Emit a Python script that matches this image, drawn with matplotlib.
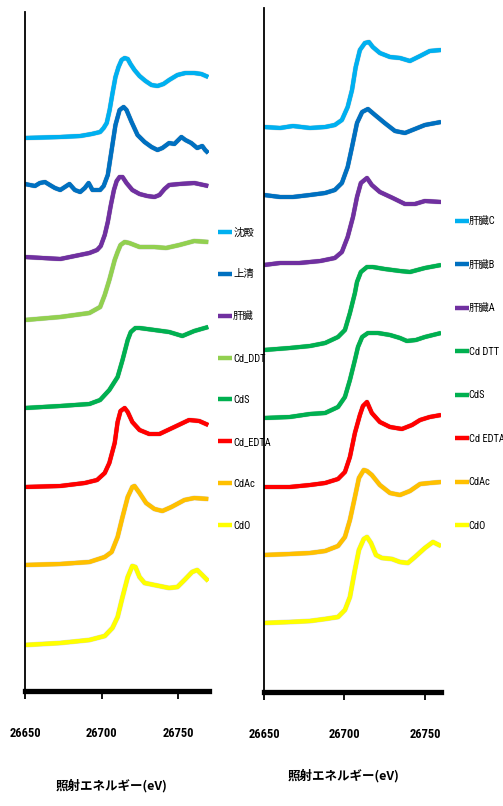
import matplotlib
matplotlib.use('Agg')
import matplotlib.pyplot as plt
from matplotlib import font_manager
import matplotlib.patheffects as pe

# ---------------- data (energy in eV, stacked intensity, arbitrary units) ----------------
# Left panel
left_labels = ['沈殿', '上清', '肝臓', 'Cd_DDT', 'CdS', 'Cd_EDTA', 'CdAc', 'CdO']
left_colors = ['#00B0F0', '#0070C0', '#7030A0', '#92D050', '#00B050', '#FF0000', '#FFC000', '#FFFF00']

L_sed_E = [26650, 26673, 26686, 26693.5, 26699, 26701.3, 26703.3, 26705.2, 26707.1, 26709, 26711,
           26713, 26715, 26717, 26718.8, 26721.4, 26724.7, 26728.6, 26732.5, 26736.4, 26740.3,
           26744, 26749.4, 26754.6, 26760.4, 26765, 26769.5]
L_sed_y = [5.53, 5.54, 5.55, 5.57, 5.59, 5.63, 5.68, 5.81, 5.98, 6.14, 6.24,
           6.31, 6.33, 6.32, 6.27, 6.21, 6.15, 6.10, 6.06, 6.05, 6.07,
           6.11, 6.16, 6.18, 6.18, 6.17, 6.14]

L_sup_E = [26650, 26653.2, 26656.5, 26659.7, 26663, 26666.2, 26669.5, 26673, 26676, 26679,
           26682.5, 26686, 26689, 26691.5, 26694, 26699, 26701.3, 26704, 26706.5, 26709,
           26711.7, 26714.3, 26716.2, 26719.5, 26723.4, 26728, 26732.5, 26736.4, 26739.6, 26744,
           26747.4, 26752, 26754.6, 26758.4, 26762.3, 26765.6, 26767.5, 26769.5]
L_sup_y = [5.07, 5.06, 5.05, 5.08, 5.09, 5.06, 5.03, 5.01, 5.04, 5.07,
           5.01, 4.99, 5.03, 5.08, 5.01, 5.01, 5.05, 5.16, 5.41, 5.66,
           5.81, 5.84, 5.81, 5.69, 5.56, 5.49, 5.44, 5.41, 5.43, 5.48,
           5.47, 5.54, 5.51, 5.48, 5.43, 5.45, 5.41, 5.38]

L_liv_E = [26650, 26673, 26692, 26697, 26699.4, 26702, 26704, 26706, 26708, 26709.8, 26711.7,
           26713.6, 26716.2, 26720, 26724.7, 26729.7, 26734.4, 26737.7, 26741, 26744, 26750.7,
           26760.4, 26769.5]
L_liv_y = [4.34, 4.32, 4.38, 4.41, 4.45, 4.56, 4.69, 4.86, 5.01, 5.10, 5.14,
           5.14, 5.08, 5.01, 4.97, 4.95, 4.94, 4.96, 5.02, 5.06, 5.07,
           5.08, 5.05]

L_ddt_E = [26650, 26673, 26692, 26699, 26702, 26705, 26708.5, 26710.4, 26712.3, 26715, 26718,
           26724.7, 26734.4, 26742, 26750.7, 26760.4, 26769.5]
L_ddt_y = [3.71, 3.74, 3.78, 3.84, 3.96, 4.11, 4.31, 4.39, 4.46, 4.49, 4.48,
           4.44, 4.44, 4.43, 4.46, 4.50, 4.49]

L_cds_E = [26650, 26673, 26692, 26699, 26705, 26710.4, 26713.6, 26717, 26719, 26722, 26724.7,
           26734.4, 26744, 26752.6, 26760.4, 26769.5]
L_cds_y = [2.83, 2.85, 2.87, 2.91, 3.01, 3.14, 3.31, 3.51, 3.59, 3.63, 3.63,
           3.61, 3.59, 3.55, 3.60, 3.64]

L_edta_E = [26650, 26673, 26689, 26697, 26702, 26705, 26708.5, 26710.4, 26712.3, 26715,
            26717, 26720, 26724.7, 26731, 26737.7, 26747.4, 26757, 26763.6, 26769.5]
L_edta_y = [2.04, 2.05, 2.08, 2.11, 2.18, 2.28, 2.48, 2.69, 2.80, 2.83,
            2.79, 2.69, 2.61, 2.57, 2.57, 2.64, 2.71, 2.70, 2.66]

L_ac_E = [26650, 26673, 26692, 26702, 26706.5, 26710.4, 26713.6, 26717, 26720, 26721.4,
          26724.7, 26729, 26734.4, 26739.6, 26745.5, 26754, 26760.4, 26769.5]
L_ac_y = [1.26, 1.27, 1.29, 1.34, 1.39, 1.54, 1.74, 1.94, 2.04, 2.05,
          1.98, 1.88, 1.82, 1.80, 1.84, 1.91, 1.93, 1.92]

L_o_E = [26650, 26673, 26692, 26702, 26707, 26710.4, 26713.6, 26717, 26720, 26722,
         26724.7, 26728, 26734.4, 26744, 26749.4, 26754, 26759, 26762.3, 26765.6, 26769.5]
L_o_y = [0.46, 0.48, 0.51, 0.55, 0.63, 0.74, 0.94, 1.14, 1.25, 1.24,
         1.14, 1.08, 1.06, 1.03, 1.04, 1.11, 1.19, 1.21, 1.16, 1.10]

# Right panel
right_labels = ['肝臓C', '肝臓B', '肝臓A', 'Cd DTT', 'CdS', 'Cd EDTA', 'CdAc', 'CdO']
right_colors = ['#00B0F0', '#0070C0', '#7030A0', '#00B050', '#00B050', '#FF0000', '#FFC000', '#FFFF00']

R_c_E = [26650, 26660, 26668, 26678.6, 26688, 26694, 26698.4, 26702, 26704.7, 26707, 26709.6,
         26712.7, 26715.2, 26717.6, 26722, 26728.3, 26734.5, 26740.7, 26747, 26753, 26760]
R_c_y = [5.65, 5.64, 5.66, 5.64, 5.65, 5.67, 5.72, 5.85, 6.02, 6.25, 6.42,
         6.49, 6.50, 6.45, 6.39, 6.35, 6.34, 6.31, 6.36, 6.41, 6.42]

R_b_E = [26650, 26660, 26668, 26678.6, 26688, 26694, 26698.4, 26702, 26704.7, 26707.8,
         26711, 26714.6, 26719, 26725, 26731.4, 26737.6, 26743.8, 26750, 26760]
R_b_y = [4.97, 4.95, 4.95, 4.97, 4.99, 5.02, 5.09, 5.25, 5.45, 5.69,
         5.80, 5.83, 5.77, 5.69, 5.61, 5.59, 5.63, 5.67, 5.70]

R_a_E = [26650, 26660, 26672, 26685, 26694, 26698.4, 26702, 26705.3, 26707.8, 26710.2,
         26714, 26717, 26722, 26730, 26737.6, 26743.8, 26750, 26760]
R_a_y = [4.27, 4.29, 4.29, 4.31, 4.34, 4.40, 4.55, 4.75, 4.95, 5.09,
         5.14, 5.07, 5.00, 4.94, 4.88, 4.88, 4.91, 4.90]

R_dtt_E = [26650, 26666, 26678.6, 26688, 26696, 26700.3, 26703.4, 26706.5, 26707.8, 26710.2,
           26714, 26717.6, 26725, 26734.5, 26740.7, 26750, 26760]
R_dtt_y = [3.42, 3.44, 3.46, 3.49, 3.55, 3.62, 3.79, 3.99, 4.10, 4.20,
           4.25, 4.25, 4.23, 4.21, 4.20, 4.24, 4.27]

R_cds_E = [26650, 26666, 26678.6, 26688, 26696, 26700.3, 26703.4, 26706.5, 26708.4, 26711,
           26714.6, 26720.8, 26728.3, 26734.5, 26738.8, 26744.4, 26750, 26760]
R_cds_y = [2.74, 2.75, 2.78, 2.79, 2.85, 2.95, 3.12, 3.32, 3.45, 3.55,
           3.59, 3.59, 3.57, 3.54, 3.51, 3.52, 3.55, 3.59]

R_edta_E = [26650, 26666, 26678.6, 26688, 26696, 26700.3, 26703.4, 26706.5, 26709.6, 26711.5,
            26714, 26717, 26722, 26728.3, 26735.7, 26742, 26747, 26753, 26760]
R_edta_y = [2.05, 2.05, 2.07, 2.09, 2.13, 2.20, 2.35, 2.59, 2.77, 2.86,
            2.90, 2.79, 2.70, 2.65, 2.63, 2.67, 2.72, 2.75, 2.77]

R_ac_E = [26650, 26666, 26678.6, 26688, 26696, 26700.3, 26703.4, 26706.5, 26709, 26712,
          26714, 26717, 26722, 26728.3, 26734.5, 26740.7, 26747, 26753, 26760]
R_ac_y = [1.37, 1.38, 1.39, 1.41, 1.46, 1.55, 1.72, 1.95, 2.14, 2.22,
          2.21, 2.17, 2.07, 1.99, 1.97, 2.01, 2.08, 2.09, 2.10]

R_o_E = [26650, 26666, 26678.6, 26688, 26696, 26700.3, 26703.4, 26706.5, 26709, 26712,
         26714, 26716.5, 26719.6, 26723.3, 26729.5, 26734.5, 26739.4, 26743.8, 26750, 26755, 26760]
R_o_y = [0.69, 0.70, 0.71, 0.73, 0.75, 0.82, 0.95, 1.22, 1.42, 1.53,
         1.55, 1.49, 1.37, 1.34, 1.33, 1.30, 1.29, 1.35, 1.44, 1.50, 1.46]

x_ticks = [26650, 26700, 26750]
x_label = '照射エネルギー(eV)'

left_series = [(L_sed_E, L_sed_y), (L_sup_E, L_sup_y), (L_liv_E, L_liv_y), (L_ddt_E, L_ddt_y),
               (L_cds_E, L_cds_y), (L_edta_E, L_edta_y), (L_ac_E, L_ac_y), (L_o_E, L_o_y)]
right_series = [(R_c_E, R_c_y), (R_b_E, R_b_y), (R_a_E, R_a_y), (R_dtt_E, R_dtt_y),
                (R_cds_E, R_cds_y), (R_edta_E, R_edta_y), (R_ac_E, R_ac_y), (R_o_E, R_o_y)]

# ---------------- fonts ----------------
ttf = font_manager.fontManager.ttflist
names = {f.name for f in ttf}
narrow, stretch = None, 'normal'
for cand in ['Liberation Sans Narrow', 'Roboto Condensed', 'Open Sans Condensed',
             'DejaVu Sans Condensed', 'Noto Sans Condensed']:
    if cand in names:
        narrow = cand
        break
if narrow is None:
    for f in ttf:
        st = f.stretch
        if st in ('condensed', 'semi-condensed', 'extra-condensed', 'ultra-condensed') or \
                (isinstance(st, int) and st < 500):
            narrow, stretch = f.name, 'condensed'
            break
found_narrow = narrow is not None
if narrow is None:
    narrow = 'Liberation Sans'
fam = [narrow, 'Noto Sans CJK JP', 'DejaVu Sans']
plt.rcParams['font.family'] = fam

leg_fs = 7.5 if found_narrow else 6.6
tick_fs = 9.0 if found_narrow else 8.5

W, H = 503, 806
fig = plt.figure(figsize=(W / 100, H / 100), dpi=100)


def px_axes(l, t, r, b):
    ax = fig.add_axes([l / W, 1 - b / H, (r - l) / W, (b - t) / H])
    ax.patch.set_visible(False)
    return ax


axL = px_axes(25, 12, 209, 691)
axR = px_axes(264, 8, 441, 692)

shadow = [pe.withStroke(linewidth=3.7, foreground='#9a9a9a', alpha=0.35), pe.Normal()]


def draw(ax, series, labels, colors, xlim, ylim, leg_x, leg_first, leg_step, tpad, lab_xy):
    handles = []
    for (E, y), lab, c in zip(series, labels, colors):
        h, = ax.plot(E, y, color=c, lw=2.9, label=lab, solid_capstyle='butt',
                     solid_joinstyle='round', path_effects=shadow)
        handles.append(h)
    ax.set_xlim(*xlim)
    ax.set_ylim(*ylim)
    for s in ['top', 'right']:
        ax.spines[s].set_visible(False)
    ax.spines['left'].set_linewidth(1.3)
    ax.spines['bottom'].set_linewidth(3.8)
    ax.set_yticks([])
    ax.set_xticks(x_ticks)
    ax.tick_params(axis='x', direction='out', length=6, width=1.3, pad=20,
                   labelsize=tick_fs)
    for t in ax.get_xticklabels():
        t.set_fontweight('bold')
        t.set_fontstretch(stretch)
    ax.set_xlabel(x_label, fontsize=9, fontweight='bold',
                  family=['Noto Sans CJK JP', 'DejaVu Sans'])
    ax.xaxis.set_label_coords(*lab_xy)
    fs_px = leg_fs * 100 / 72
    ls = leg_step / fs_px - 0.97
    leg = ax.legend(handles=handles, loc='upper left',
                    bbox_to_anchor=(leg_x / W, 1 - (leg_first - 0.45 * fs_px) / H),
                    bbox_transform=fig.transFigure, frameon=False, borderpad=0,
                    borderaxespad=0, handlelength=1.3, handletextpad=tpad,
                    labelspacing=ls, prop=dict(family=fam, size=leg_fs, stretch=stretch))
    for line in leg.get_lines():
        line.set_linewidth(3.2)
        line.set_path_effects([])
    leg.set_zorder(10)
    return leg


draw(axL, left_series, left_labels, left_colors, (26650, 26770), (0, 6.79),
     218, 232, 42.0, 0.15, (0.47, -0.129))
draw(axR, right_series, right_labels, right_colors, (26650, 26760), (0, 6.84),
     455, 221, 43.6, 0.0, (0.45, -0.112))

fig.savefig('out.png', dpi=100)
